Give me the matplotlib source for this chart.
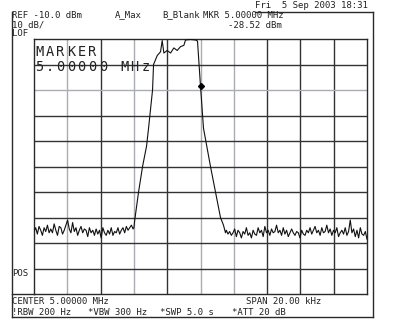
import numpy as np
import matplotlib.pyplot as plt

# spectrum analyzer screen: center 5 MHz, span 20 kHz, ref -10 dBm, 10 dB/div
ref_level = -10.0
db_per_div = 10
span_khz = 20.0

# main lobe of the trace (offset from center in kHz, level in dBm)
lobe_f = [-4.0, -3.95, -3.72, -3.48, -3.24, -3.12, -2.88, -2.82, -2.6, -2.4,
          -2.3, -2.2, -2.0, -1.8, -1.6, -1.4, -1.2, -1.0, -0.9, -0.6,
          -0.3, -0.18, 0.0, 0.18, 0.6, 0.9, 1.2, 1.38, 1.5]
lobe_db = [-84, -81, -70, -60, -52, -45, -30, -20, -16.5, -15,
           -10.6, -15.5, -14.5, -15.5, -13.5, -14.5, -13, -12.5, -10.4, -10.2,
           -10.4, -10.8, -28.5, -45, -60, -70, -80, -83, -86]

# noise floor either side of the lobe
noise_left = [-85.5, -84, -86.5, -83.5, -85, -87, -84, -85.5, -83, -86,
              -84.5, -86, -82.5, -85, -87, -83.5, -84, -86.5, -85, -83,
              -81, -84.5, -86, -82, -85.5, -84, -87, -85, -83.5, -86,
              -84.5, -85, -87.5, -84, -86, -85, -87, -84.5, -86.5, -85,
              -88, -84, -86, -87, -85, -86.5, -84, -87, -85.5, -86,
              -84, -86.5, -85, -84, -86, -83.5, -85, -84, -83, -84.5]
noise_right = [-85, -86.5, -85.5, -87, -86, -84.5, -87.5, -85, -86, -88,
               -85.5, -86.5, -84, -87, -86, -88, -85, -86.5, -87, -84,
               -86, -85, -87.5, -83.5, -86, -85, -87, -84.5, -86, -85.5,
               -83, -86, -85, -87, -84, -86.5, -85, -87.5, -86, -84.5,
               -86, -87, -85.5, -86, -88, -85, -86.5, -87, -85, -86,
               -84, -86.5, -85, -83.5, -86, -85, -87, -84, -86, -85.5,
               -83, -86, -84.5, -87, -85, -86, -84, -87.5, -86, -85,
               -86.5, -84, -87, -85.5, -81, -86, -84.5, -87.5, -85, -88,
               -84, -86.5, -87, -85.5, -88.5]

marker_f = 0.0
marker_db = -28.52

f_left = np.linspace(-10, -4.05, len(noise_left))
f_right = np.linspace(1.55, 10, len(noise_right))
freq = np.concatenate([f_left, lobe_f, f_right])
level = np.concatenate([noise_left, lobe_db, noise_right])

W, H = 400, 330
fig = plt.figure(figsize=(W / 100, H / 100), dpi=100)
fig.patch.set_facecolor('white')

# overlay axes in pixel coordinates for frame and annotations
bg = fig.add_axes([0, 0, 1, 1])
bg.set_xlim(0, W)
bg.set_ylim(H, 0)
bg.axis('off')

ink = '#2a2a2a'
bg.plot([11.5, 11.5], [12, 317], color=ink, lw=1)
bg.plot([11.5, 373], [317, 317], color=ink, lw=1)
bg.plot([373, 373], [12, 317], color=ink, lw=1)
bg.plot([255, 373], [12, 12], color=ink, lw=1)
bg.plot([11.5, 34], [294, 294], color=ink, lw=1)

mono = 'DejaVu Sans Mono'
fs = 6.5
txt = dict(family=mono, fontsize=fs, color='#222222', va='center', ha='left')
bg.text(255, 5.5, 'Fri  5 Sep 2003 18:31', **txt)
bg.text(12, 15, 'REF -10.0 dBm', **txt)
bg.text(115, 15, 'A_Max', **txt)
bg.text(162, 15, 'B_Blank', **txt)
bg.text(203, 15, 'MKR 5.00000 MHz', **txt)
bg.text(228, 25, '-28.52 dBm', **txt)
bg.text(12, 25, '10 dB/', **txt)
bg.text(12, 34, 'LOF', **txt)
bg.text(12, 273, 'POS', **txt)
bg.text(12, 302, 'CENTER 5.00000 MHz', **txt)
bg.text(246, 302, 'SPAN 20.00 kHz', **txt)
bg.text(12, 312.5, '!RBW 200 Hz', **txt)
bg.text(88, 312.5, '*VBW 300 Hz', **txt)
bg.text(160, 312.5, '*SWP 5.0 s', **txt)
bg.text(232, 312.5, '*ATT 20 dB', **txt)


def wide_text(x, y, s, pitch=10.6, size=9.8):
    # the analyzer's big font is wider than DejaVu Mono: place char by char
    for k, ch in enumerate(s):
        bg.text(x + k * pitch + pitch / 2, y, ch, family=mono, fontsize=size,
                color='#222222', va='center', ha='center', zorder=5)


# graticule axes
gx0, gx1, gy0, gy1 = 34, 367, 39, 294
ax = fig.add_axes([gx0 / W, 1 - gy1 / H, (gx1 - gx0) / W, (gy1 - gy0) / H])
ax.set_xlim(-span_khz / 2, span_khz / 2)
ax.set_ylim(ref_level - 10 * db_per_div, ref_level)
ax.set_facecolor('none')
for s in ax.spines.values():
    s.set_color(ink)
    s.set_linewidth(1)
ax.set_xticks([])
ax.set_yticks([])

dark = '#333333'
light = '#a9acb3'
light_v = [1, 3, 5, 6]
light_h = [8]
for i in range(1, 10):
    xv = -span_khz / 2 + i * span_khz / 10
    ax.axvline(xv, color=light if i in light_v else dark, lw=1, zorder=1)
for j in range(1, 10):
    yv = ref_level - 10 * db_per_div + j * db_per_div
    ax.axhline(yv, color=light if j in light_h else dark, lw=1, zorder=1)

ax.plot(freq, level, color='#111111', lw=0.8, zorder=3)
ax.plot([marker_f], [marker_db], marker='D', ms=3, color='black', zorder=4)

bg.set_zorder(2)
wide_text(34, 52.5, 'MARKER')
wide_text(34, 67, '5.00000 MHz')

fig.savefig('out.png', dpi=100)
